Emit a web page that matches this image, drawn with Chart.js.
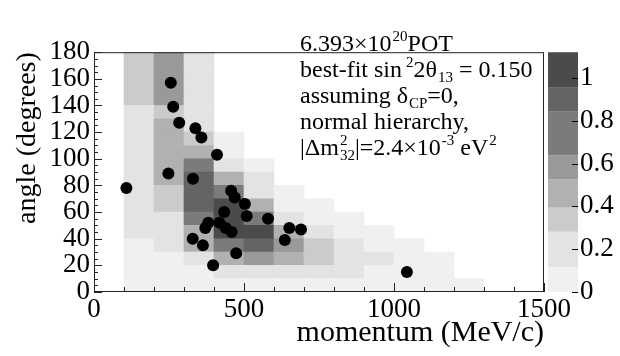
<!DOCTYPE html>
<html>
<head>
<meta charset="utf-8">
<script src="https://cdn.jsdelivr.net/npm/chart.js@4.4.0/dist/chart.umd.min.js"></script>
<style>
  html, body { margin: 0; padding: 0; background: #fff; }
  #wrap { width: 620px; height: 356px; }
</style>
</head>
<body>
<div id="wrap"><canvas id="chart" width="620" height="356"></canvas></div>
<script>
// bin edges of the 2D histogram
const momentumEdges = [0, 100, 200, 300, 400, 500, 600, 700, 800, 900, 1000, 1100, 1200, 1300, 1400, 1500];
const angleEdges = [0, 10, 20, 30, 40, 50, 60, 70, 80, 90, 100, 110, 120, 130, 140, 150, 160, 170, 180];

// expected event density, one row per angle bin (0-10 first), one value per momentum bin
const density = [
  [0, 0.06, 0.06, 0.06, 0.06, 0.06, 0.06, 0.06, 0.06, 0.06, 0.06, 0.06, 0.06, 0, 0],
  [0, 0.06, 0.06, 0.06, 0.20, 0.20, 0.20, 0.20, 0.20, 0.06, 0.06, 0.06, 0, 0, 0],
  [0, 0.06, 0.06, 0.20, 0.46, 0.58, 0.46, 0.34, 0.20, 0.20, 0.06, 0.06, 0, 0, 0],
  [0, 0.06, 0.20, 0.46, 0.74, 0.90, 0.58, 0.34, 0.20, 0.06, 0.06, 0, 0, 0, 0],
  [0, 0.20, 0.20, 0.46, 1.03, 1.03, 0.46, 0.20, 0.06, 0.06, 0, 0, 0, 0, 0],
  [0, 0.20, 0.20, 0.74, 1.03, 0.74, 0.20, 0.06, 0.06, 0, 0, 0, 0, 0, 0],
  [0, 0.20, 0.34, 0.90, 1.03, 0.46, 0.06, 0.06, 0, 0, 0, 0, 0, 0, 0],
  [0, 0.20, 0.34, 0.90, 0.74, 0.20, 0.06, 0, 0, 0, 0, 0, 0, 0, 0],
  [0, 0.20, 0.46, 0.90, 0.46, 0.20, 0, 0, 0, 0, 0, 0, 0, 0, 0],
  [0, 0.20, 0.46, 0.74, 0.20, 0.06, 0, 0, 0, 0, 0, 0, 0, 0, 0],
  [0, 0.20, 0.46, 0.46, 0.06, 0, 0, 0, 0, 0, 0, 0, 0, 0, 0],
  [0, 0.20, 0.46, 0.34, 0.06, 0, 0, 0, 0, 0, 0, 0, 0, 0, 0],
  [0, 0.20, 0.46, 0.20, 0, 0, 0, 0, 0, 0, 0, 0, 0, 0, 0],
  [0, 0.20, 0.34, 0.20, 0, 0, 0, 0, 0, 0, 0, 0, 0, 0, 0],
  [0, 0.34, 0.58, 0.20, 0, 0, 0, 0, 0, 0, 0, 0, 0, 0, 0],
  [0, 0.34, 0.58, 0.20, 0, 0, 0, 0, 0, 0, 0, 0, 0, 0, 0],
  [0, 0.34, 0.58, 0.20, 0, 0, 0, 0, 0, 0, 0, 0, 0, 0, 0],
  [0, 0.34, 0.58, 0.20, 0, 0, 0, 0, 0, 0, 0, 0, 0, 0, 0]
];

// observed events
const eventMomentum = [256, 264, 284, 338, 358, 410, 248, 330, 108, 457, 469, 503, 434, 509,
  580, 381, 418, 371, 439, 459, 651, 690, 636, 329, 363, 474, 397, 1043];
const eventAngle = [157, 139, 127, 123, 116, 103, 89, 85, 78, 76, 71, 66, 60, 57,
  55, 52, 52, 48, 48, 45, 48, 47, 39, 40, 35, 29, 20, 15];

// colour scale
const zLevels = [0, 0.116, 0.282, 0.394, 0.527, 0.639, 0.842, 0.954, 1.12];
const zColors = ['#f0f0f0', '#e3e3e3', '#cbcbcb', '#b1b1b1', '#999999', '#7b7b7b', '#646464', '#4b4b4b'];

const FONT = "'Liberation Serif', 'Times New Roman', serif";

function levelColor(v) {
  for (let i = zColors.length - 1; i >= 0; i--) {
    if (v >= zLevels[i]) return zColors[i];
  }
  return zColors[0];
}

const cellDatasets = density.map((row, r) => {
  const pts = [];
  row.forEach((v, c) => {
    if (v > 0) {
      pts.push({ x: (momentumEdges[c] + momentumEdges[c + 1]) / 2, y: [angleEdges[r], angleEdges[r + 1]], v: v });
    }
  });
  return {
    type: 'bar',
    data: pts,
    backgroundColor: pts.map(p => levelColor(p.v)),
    borderWidth: 0,
    grouped: false,
    barPercentage: 1,
    categoryPercentage: 1,
    yAxisID: 'y',
    order: 1
  };
});

const eventDataset = {
  type: 'scatter',
  data: eventMomentum.map((p, i) => ({ x: p, y: eventAngle[i] })),
  backgroundColor: '#000',
  borderColor: '#000',
  borderWidth: 0,
  pointRadius: 6,
  pointHoverRadius: 6,
  yAxisID: 'y',
  order: 0
};

const noteLines = [
  [['6.393×10'], ['20', 'sup'], ['POT']],
  [['best-fit sin'], ['2', 'sup'], ['2θ'], ['13', 'sub'], [' = 0.150']],
  [['assuming δ'], ['CP', 'sub'], ['=0,']],
  [['normal hierarchy,']],
  [['|Δm'], ['2', 'supsub', '32'], ['|=2.4×10'], ['-3', 'sup'], [' eV'], ['2', 'sup']]
];

function drawRich(ctx, x, y, parts, size) {
  const small = Math.round(size * 0.64);
  ctx.textBaseline = 'alphabetic';
  ctx.textAlign = 'left';
  parts.forEach(p => {
    const kind = p[1];
    if (!kind) {
      ctx.font = size + 'px ' + FONT;
      ctx.fillText(p[0], x, y);
      x += ctx.measureText(p[0]).width;
    } else if (kind === 'sup') {
      ctx.font = small + 'px ' + FONT;
      const gap = p[0] === '2' && x > 380 && x < 420 ? 4 : 1;
      ctx.fillText(p[0], x + gap, y - size * 0.42);
      x += ctx.measureText(p[0]).width + gap;
    } else if (kind === 'sub') {
      ctx.font = small + 'px ' + FONT;
      ctx.fillText(p[0], x + 1, y + size * 0.22);
      x += ctx.measureText(p[0]).width + 1;
    } else {
      ctx.font = small + 'px ' + FONT;
      ctx.fillText(p[0], x + 1, y - size * 0.42);
      ctx.fillText(p[2], x + 1, y + size * 0.22);
      x += Math.max(ctx.measureText(p[0]).width, ctx.measureText(p[2]).width) + 1;
    }
  });
}

const framePlugin = {
  id: 'frame',
  afterDatasetsDraw(chart) {
    const { ctx, chartArea: a, scales } = chart;
    const x = scales.x, y = scales.y, z = scales.colz;
    ctx.save();
    ctx.strokeStyle = '#222';
    ctx.lineWidth = 1;
    ctx.strokeRect(a.left + 0.5, a.top + 0.5, a.right - a.left - 1, a.bottom - a.top - 1);
    ctx.beginPath();
    for (let v = x.min; v <= x.max; v += 100) {
      const px = Math.round(x.getPixelForValue(v)) + 0.5;
      const len = v % 500 === 0 ? 9 : 5;
      ctx.moveTo(px, a.bottom);
      ctx.lineTo(px, a.bottom - len);
    }
    for (let v = y.min; v <= y.max; v += 5) {
      const py = Math.round(y.getPixelForValue(v)) + 0.5;
      const len = v % 20 === 0 ? 8 : 4;
      ctx.moveTo(a.left, py);
      ctx.lineTo(a.left + len, py);
    }
    ctx.stroke();

    // colour bar
    const bx = z.left + 4, bw = 30;
    for (let i = 0; i < zColors.length; i++) {
      const top = z.getPixelForValue(zLevels[i + 1]);
      const bot = z.getPixelForValue(zLevels[i]);
      ctx.fillStyle = zColors[i];
      ctx.fillRect(bx, top, bw, bot - top);
    }
    ctx.beginPath();
    z.ticks.forEach(t => {
      const py = Math.round(z.getPixelForValue(t.value)) + 0.5;
      ctx.moveTo(bx + bw - 6, py);
      ctx.lineTo(bx + bw, py);
    });
    ctx.strokeStyle = '#000';
    ctx.stroke();

    // annotation
    ctx.fillStyle = '#000';
    const base = [51, 77, 103, 129, 155];
    noteLines.forEach((line, i) => drawRich(ctx, 300, base[i], line, 24));
    ctx.restore();
  }
};

new Chart(document.getElementById('chart'), {
  type: 'bar',
  data: { datasets: [eventDataset].concat(cellDatasets) },
  options: {
    responsive: false,
    animation: false,
    devicePixelRatio: 1,
    layout: { padding: { top: 22, left: 0, right: 0, bottom: 0 } },
    plugins: { legend: { display: false }, tooltip: { enabled: false } },
    scales: {
      x: {
        type: 'linear',
        min: 0,
        max: 1500,
        offset: false,
        grid: { display: false, drawTicks: false, offset: false },
        border: { display: false },
        ticks: {
          stepSize: 500,
          autoSkip: false,
          maxRotation: 0,
          padding: 2,
          color: '#000',
          font: { family: FONT, size: 27 },
          callback: v => String(v)
        },
        title: { display: true, text: 'momentum (MeV/c)', align: 'end', color: '#000', font: { family: FONT, size: 30, lineHeight: 1 }, padding: { top: 0, bottom: 8 } },
        afterFit: s => { s.height = 64; }
      },
      y: {
        type: 'linear',
        min: 0,
        max: 180,
        grid: { display: false, drawTicks: false },
        border: { display: false },
        ticks: {
          stepSize: 20,
          autoSkip: false,
          padding: 4,
          color: '#000',
          font: { family: FONT, size: 27 },
          callback: v => String(v)
        },
        title: { display: true, text: 'angle (degrees)', align: 'end', color: '#000', font: { family: FONT, size: 28, lineHeight: 1 }, padding: { top: 14, bottom: 0 } },
        afterFit: s => { s.width = 94; }
      },
      colz: {
        axis: 'y',
        type: 'linear',
        position: 'right',
        min: 0,
        max: 1.12,
        grid: { display: false, drawTicks: false },
        border: { display: false },
        ticks: {
          stepSize: 0.2,
          autoSkip: false,
          includeBounds: false,
          padding: 36,
          color: '#000',
          font: { family: FONT, size: 27 },
          callback: v => String(+v.toFixed(1))
        },
        afterFit: s => { s.width = 76; }
      }
    }
  },
  plugins: [framePlugin]
});
</script>
</body>
</html>
